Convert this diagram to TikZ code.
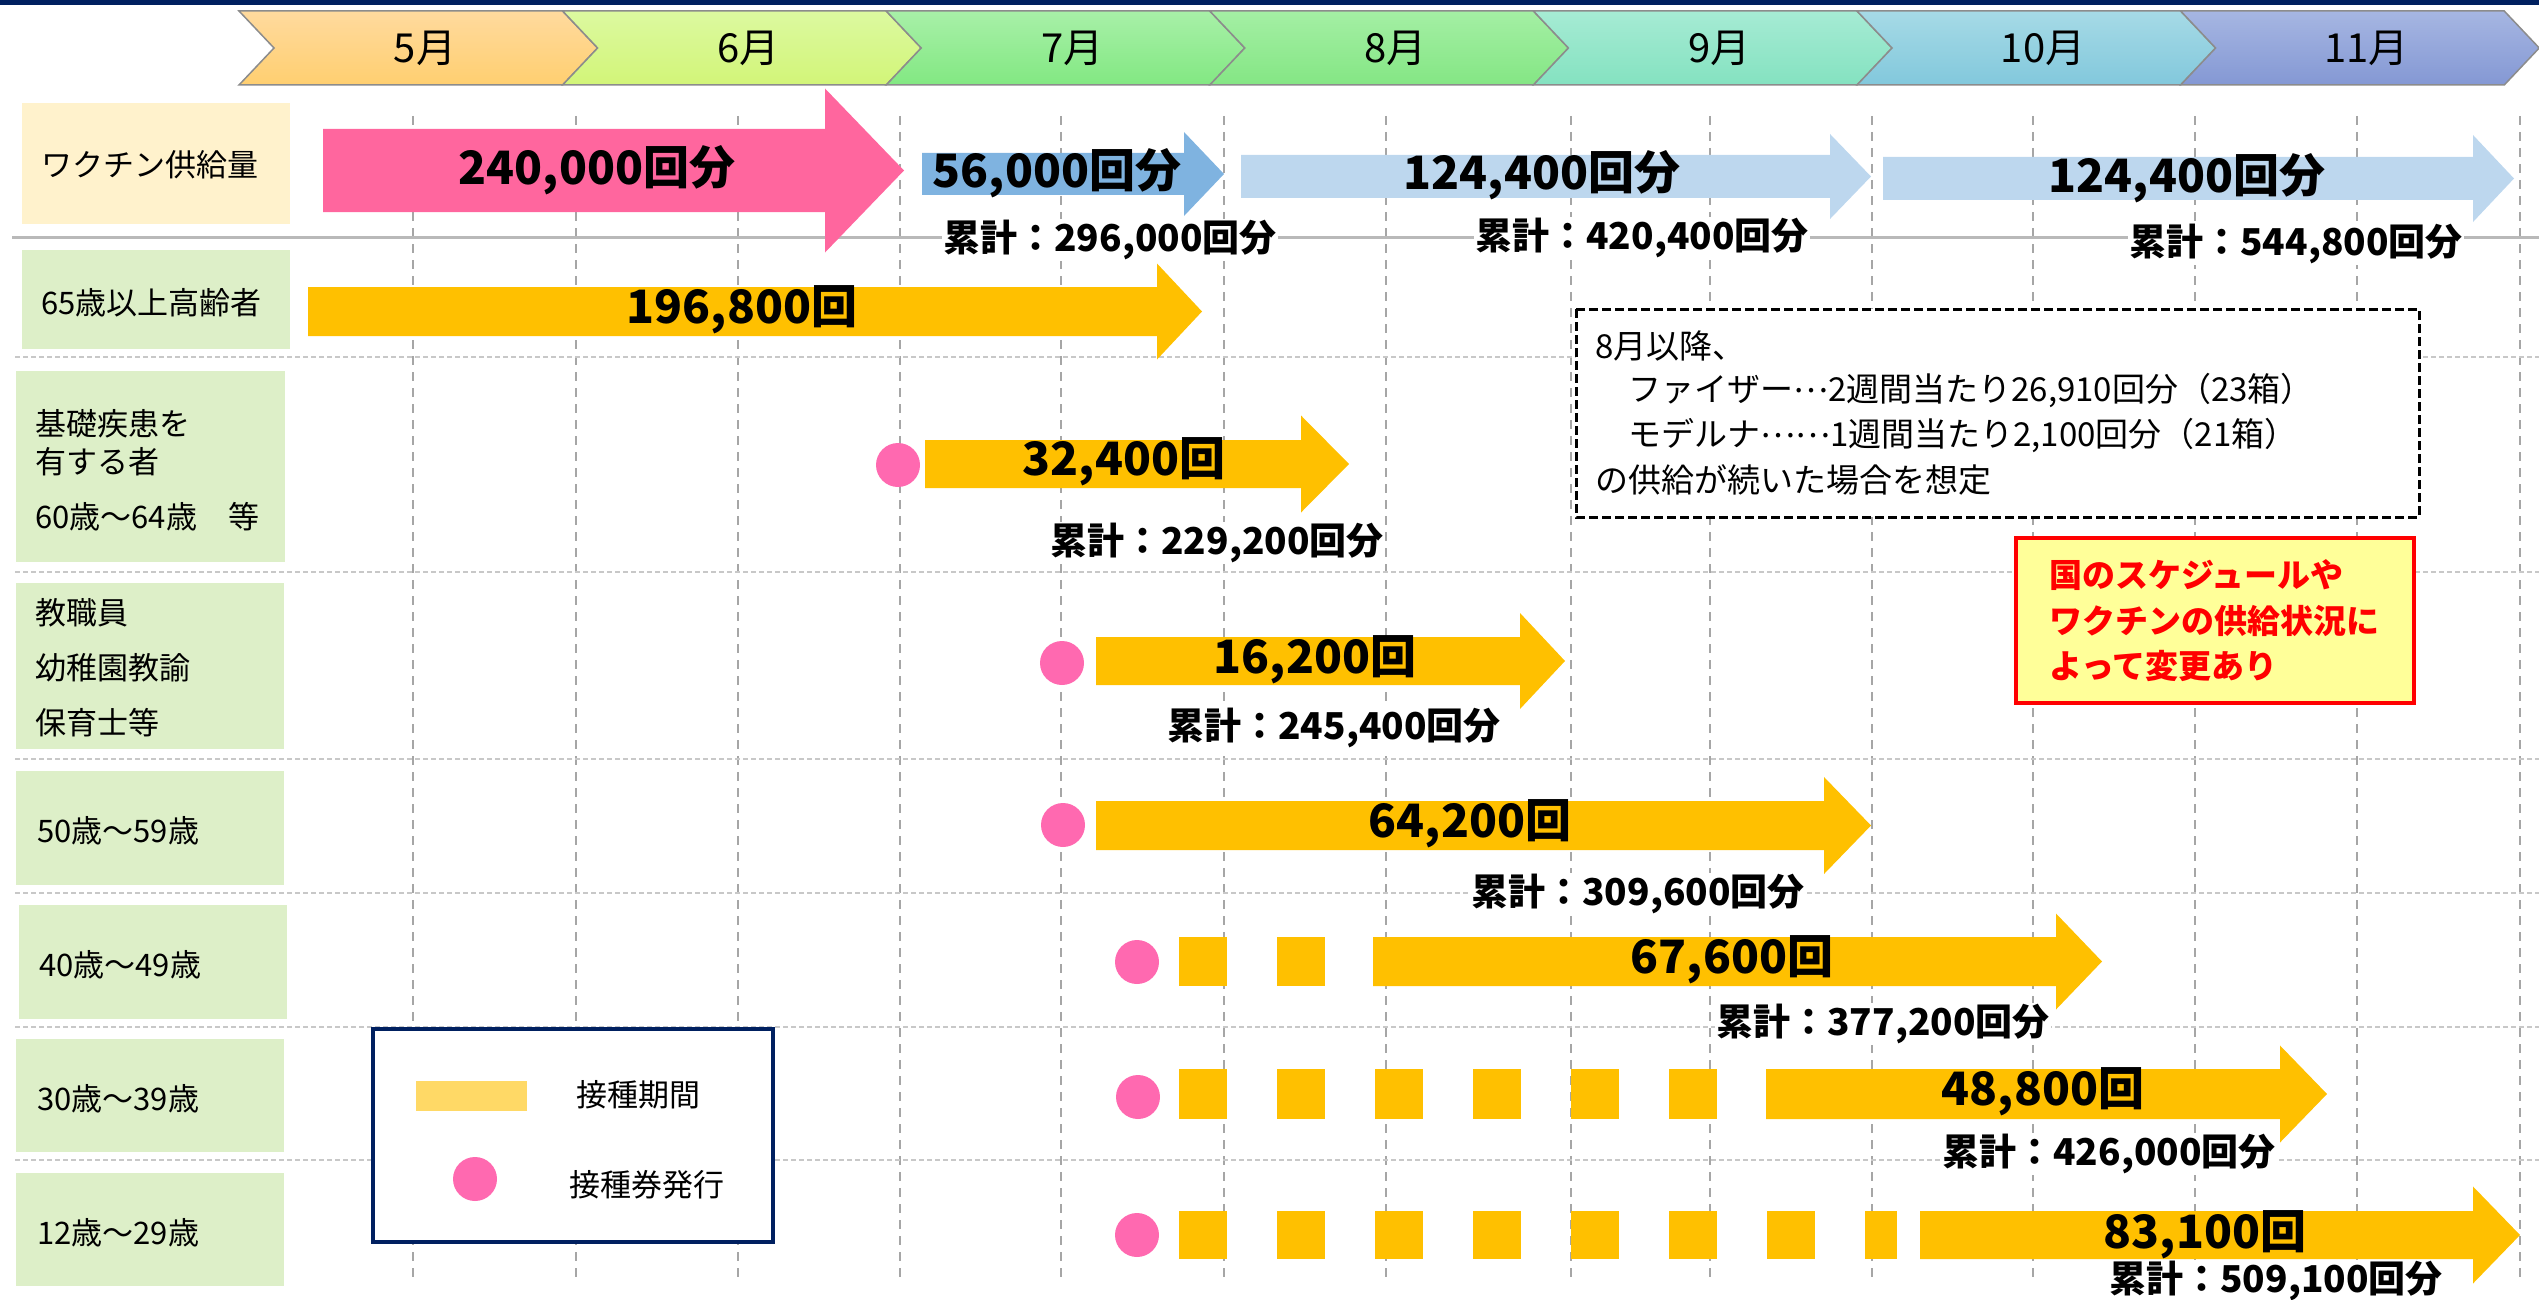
\documentclass[tikz,border=0pt]{standalone}
\usepackage{fontspec}
\setmainfont{Noto Sans CJK JP}
\usepackage{tikz}
\definecolor{navy}{HTML}{002060}
\definecolor{chevgray}{HTML}{8C8C8C}
\definecolor{gridgray}{HTML}{A6A6A6}
\definecolor{rowgray}{HTML}{C8C8C8}
\definecolor{supplypink}{HTML}{FF669E}
\definecolor{supplyblue}{HTML}{7FB3E0}
\definecolor{supplylight}{HTML}{BDD7EE}
\definecolor{vacc}{HTML}{FFC000}
\definecolor{vacclegend}{HTML}{FFD966}
\definecolor{ticketpink}{HTML}{FF69B0}
\definecolor{boxyellow}{HTML}{FFF2CC}
\definecolor{boxgreen}{HTML}{DDEFC8}
\definecolor{warnred}{HTML}{FF0000}
\definecolor{warnfill}{HTML}{FFFF99}
\definecolor{m5t}{HTML}{FFDA9E}\definecolor{m5b}{HTML}{FFCF70}
\definecolor{m6t}{HTML}{DCF9A0}\definecolor{m6b}{HTML}{D2F578}
\definecolor{m7t}{HTML}{A8F0A8}\definecolor{m7b}{HTML}{82E882}
\definecolor{m8t}{HTML}{A4EFA4}\definecolor{m8b}{HTML}{84E684}
\definecolor{m9t}{HTML}{A6EBD4}\definecolor{m9b}{HTML}{84E2C0}
\definecolor{m10t}{HTML}{A6DAE6}\definecolor{m10b}{HTML}{82C8DC}
\definecolor{m11t}{HTML}{A6B6E2}\definecolor{m11b}{HTML}{8498D4}
% block arrow: colour, start x, head x, tip x, centre y, half body, half head
\newcommand{\blockarrow}[7]{%
  \fill[#1] (#2,#5-#6) -- (#3,#5-#6) -- (#3,#5-#7) -- (#4,#5)
    -- (#3,#5+#7) -- (#3,#5+#6) -- (#2,#5+#6) -- cycle;}
% centred ellipsis
\newcommand{\midell}{\raisebox{0.3em}{…}}

\begin{document}
\begin{tikzpicture}[x=1pt,y=-1pt,
  gridv/.style={gridgray,line width=1.6pt,dash pattern=on 9pt off 7pt},
  gridh/.style={rowgray,line width=2.5pt,dash pattern=on 5pt off 3pt},
  rowtext/.style={anchor=west,inner sep=0pt,font=\fontsize{31}{34}\selectfont},
  amount/.style={inner sep=0pt,font=\fontsize{46}{48}\selectfont\bfseries},
  total/.style={fill=white,inner sep=1pt,font=\fontsize{37}{40}\selectfont\bfseries},
  notetext/.style={anchor=west,inner sep=0pt,font=\fontsize{33}{35}\selectfont},
  warntext/.style={anchor=west,inner sep=0pt,text=warnred,font=\fontsize{33}{36}\selectfont\bfseries},
  legtext/.style={inner sep=0pt,font=\fontsize{31}{34}\selectfont}]
\useasboundingbox (0,0) rectangle (2539,1300);
\fill[navy] (0,0) rectangle (2539,5);
% months
\foreach \m/\ct/\cb [count=\i from 0] in {5/m5t/m5b,6/m6t/m6b,7/m7t/m7b,8/m8t/m8b,9/m9t/m9b,10/m10t/m10b,11/m11t/m11b} {
  \pgfmathsetmacro\L{239+323.6*\i}
  \shadedraw[top color=\ct,bottom color=\cb,draw=chevgray,line width=1.5pt]
    (\L,11) -- (\L+323.6,11) -- (\L+358.6,48) -- (\L+323.6,85) -- (\L,85) -- (\L+35,48) -- cycle;
  \node[font=\fontsize{40}{42}\selectfont] (mon\m) at (\L+186,48) {{\m}月};
}
% grid
\foreach \x in {413,576,738,900,1061,1224,1386,1571,1710,1872,2033,2195,2357,2520}
  \draw[gridv] (\x,116) -- (\x,1279);
\draw[rowgray!80!gray,line width=3pt] (12,237) -- (2539,237);
\foreach \y in {357,572,759,893,1027,1160}
  \draw[gridh] (15,\y) -- (2539,\y);
% row labels
\fill[boxyellow] (22,103) rectangle (290,224);
\node[rowtext] (r1) at (41,165) {ワクチン供給量};
\fill[boxgreen] (22,250) rectangle (290,349);
\node[rowtext] (r2) at (41,303) {65歳以上高齢者};
\fill[boxgreen] (16,371) rectangle (285,562);
\node[rowtext] (r3a) at (35,424) {基礎疾患を};
\node[rowtext] (r3b) at (35,462) {有する者};
\node[rowtext] (r3c) at (35,517) {60歳～64歳　等};
\fill[boxgreen] (16,583) rectangle (284,749);
\node[rowtext] (r4a) at (35,613) {教職員};
\node[rowtext] (r4b) at (35,668) {幼稚園教諭};
\node[rowtext] (r4c) at (35,723) {保育士等};
\fill[boxgreen] (16,771) rectangle (284,885);
\node[rowtext] (r5) at (37,831) {50歳～59歳};
\fill[boxgreen] (19,905) rectangle (287,1019);
\node[rowtext] (r6) at (39,965) {40歳～49歳};
\fill[boxgreen] (16,1039) rectangle (284,1152);
\node[rowtext] (r7) at (37,1099) {30歳～39歳};
\fill[boxgreen] (16,1173) rectangle (284,1286);
\node[rowtext] (r8) at (37,1233) {12歳～29歳};
% note and warning
\draw[black,fill=white,line width=3pt,dash pattern=on 9pt off 4pt] (1576,309) rectangle (2419,517);
\node[notetext] (n1) at (1595,346) {8月以降、};
\node[notetext] (n2) at (1595,391) {　ファイザー\midell 2週間当たり26,910回分（23箱）};
\node[notetext] (n3) at (1595,436) {　モデルナ\midell\midell 1週間当たり2,100回分（21箱）};
\node[notetext] (n4) at (1595,480) {の供給が続いた場合を想定};
\draw[warnred,fill=warnfill,line width=4.5pt] (2016,538) rectangle (2414,703);
\node[warntext] (w1) at (2049,575) {国のスケジュールや};
\node[warntext] (w2) at (2049,621) {ワクチンの供給状況に};
\node[warntext] (w3) at (2049,666) {よって変更あり};
% legend
\draw[navy,fill=white,line width=4pt] (373,1029) rectangle (773,1242);
\fill[vacclegend] (416,1081) rectangle (527,1111);
\node[legtext] (l1) at (638,1095) {接種期間};
\fill[ticketpink] (475,1179) circle (22pt);
\node[legtext] (l2) at (647,1185) {接種券発行};
% supply
\blockarrow{supplypink}{323}{825}{904}{170.5}{41.5}{82}
\blockarrow{supplyblue}{922}{1184}{1224}{174}{21}{42}
\blockarrow{supplylight}{1241}{1830}{1871}{176.5}{21.5}{42.5}
\blockarrow{supplylight}{1883}{2473}{2514}{178.5}{21.5}{43.5}
\node[amount] (a1) at (597,170) {240,000回分};
\node[amount] (a2) at (1057,173) {56,000回分};
\node[amount] (a3) at (1542,175) {124,400回分};
\node[amount] (a4) at (2187,178) {124,400回分};
% vaccination periods
\blockarrow{vacc}{308}{1157}{1202}{311.5}{24.5}{48}
\blockarrow{vacc}{925}{1301}{1349}{464}{24}{48.5}
\blockarrow{vacc}{1096}{1520}{1565}{661}{24}{48}
\blockarrow{vacc}{1096}{1824}{1871}{825.5}{24.5}{48.5}
\blockarrow{vacc}{1373}{2056}{2102}{961.5}{24.5}{48}
\blockarrow{vacc}{1766}{2280}{2327}{1094}{25}{48.5}
\blockarrow{vacc}{1920}{2473}{2520}{1235}{24}{48.5}
\foreach \k in {0,1}
  \fill[vacc] (1179+98*\k,937) rectangle ++(48,49);
\foreach \k in {0,...,5}
  \fill[vacc] (1179+98*\k,1069) rectangle ++(48,50);
\foreach \k in {0,...,6}
  \fill[vacc] (1179+98*\k,1211) rectangle ++(48,48);
\fill[vacc] (1865,1211) rectangle (1897,1259);
% tickets
\foreach \x/\y in {898/465,1062/663,1063/825,1137/962,1138/1097,1137/1235}
  \fill[ticketpink] (\x,\y) circle (22pt);
\node[amount] (b1) at (742,310) {196,800回};
\node[amount] (b2) at (1124,462) {32,400回};
\node[amount] (b3) at (1315,660) {16,200回};
\node[amount] (b4) at (1470,824) {64,200回};
\node[amount] (b5) at (1732,960) {67,600回};
\node[amount] (b6) at (2043,1092) {48,800回};
\node[amount] (b7) at (2205,1235) {83,100回};
% totals
\node[total] (t1) at (1110,240) {累計：296,000回分};
\node[total] (t2) at (1642,238) {累計：420,400回分};
\node[total] (t3) at (2296,244) {累計：544,800回分};
\node[total] (t4) at (1217,543) {累計：229,200回分};
\node[total] (t5) at (1334,728) {累計：245,400回分};
\node[total] (t6) at (1638,894) {累計：309,600回分};
\node[total] (t7) at (1883,1024) {累計：377,200回分};
\node[total] (t8) at (2109,1154) {累計：426,000回分};
\node[total] (t9) at (2276,1281) {累計：509,100回分};
\end{tikzpicture}
\end{document}
